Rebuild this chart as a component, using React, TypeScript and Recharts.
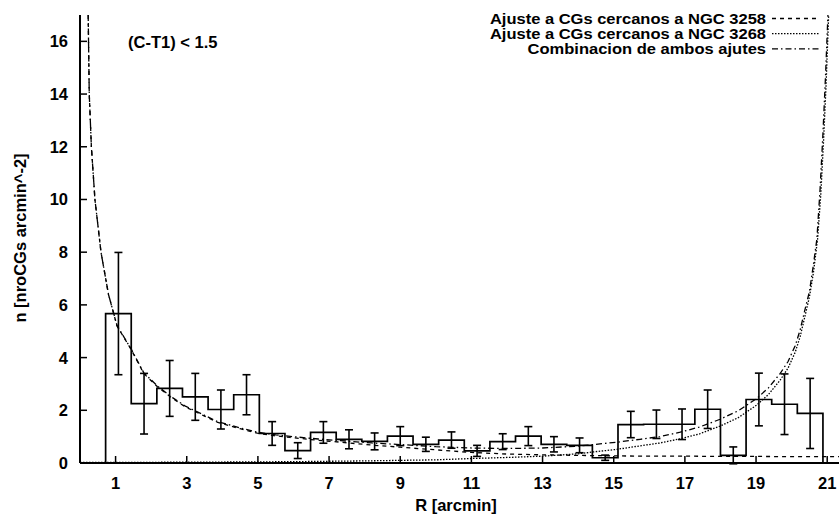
import React from 'react';
import { ComposedChart, Line, Scatter, XAxis, YAxis, ErrorBar, Legend, Label } from 'recharts';

// ---- data ----
const xTicks = [1, 3, 5, 7, 9, 11, 13, 15, 17, 19, 21];
const yTicks = [0, 2, 4, 6, 8, 10, 12, 14, 16];

// histogram bin edges [arcmin] (29 edges -> 28 bins)
const binEdges = [0.72, 1.44, 2.16, 2.88, 3.6, 4.32, 5.04, 5.76, 6.48, 7.2, 7.92, 8.64, 9.36, 10.08, 10.8, 11.52, 12.24, 12.96, 13.68, 14.4, 15.12, 15.84, 16.56, 17.28, 18.0, 18.72, 19.44, 20.16, 20.88];
const binValues = [5.67, 2.25, 2.83, 2.51, 2.03, 2.59, 1.12, 0.47, 1.16, 0.9, 0.82, 1.02, 0.71, 0.87, 0.46, 0.81, 1.02, 0.71, 0.67, 0.2, 1.46, 1.47, 1.47, 2.04, 0.29, 2.41, 2.23, 1.88];
const binErrors = [2.32, 1.15, 1.06, 0.89, 0.74, 0.76, 0.45, 0.3, 0.41, 0.36, 0.32, 0.36, 0.27, 0.31, 0.21, 0.3, 0.36, 0.29, 0.28, 0.1, 0.5, 0.54, 0.58, 0.73, 0.32, 1.0, 1.15, 1.33];

// fit near NGC 3258
const fit3258R = [0.23, 0.26, 0.32, 0.42, 0.59, 0.8, 1.04, 1.44, 1.79, 2.17, 2.6, 2.96, 3.5, 3.85, 4.5, 4.98, 5.5, 5.91, 6.7, 7.32, 8.2, 9, 10, 11, 12, 13, 14, 15, 16, 17, 18, 19, 20, 21.5];
const fit3258N = [17, 14, 12, 10, 8, 6.4, 5.2, 4.3, 3.4, 2.9, 2.45, 2.13, 1.78, 1.55, 1.3, 1.13, 1.03, 0.97, 0.86, 0.79, 0.68, 0.6, 0.5, 0.4, 0.34, 0.31, 0.29, 0.27, 0.26, 0.26, 0.25, 0.25, 0.24, 0.24];

// fit near NGC 3268
const fit3268R = [0, 3, 6, 8, 10, 11, 12, 13, 14, 14.43, 15.1, 15.74, 16.3, 16.87, 17.4, 17.99, 18.5, 19.02, 19.35, 19.68, 19.9, 20.1, 20.24, 20.38, 20.5, 20.61, 20.73, 20.82, 20.9, 20.97, 21.04];
const fit3268N = [0.02, 0.03, 0.05, 0.08, 0.12, 0.17, 0.21, 0.26, 0.35, 0.42, 0.52, 0.65, 0.76, 0.92, 1.1, 1.4, 1.72, 2.2, 2.6, 3.15, 3.6, 4.2, 4.8, 5.6, 6.3, 7.2, 8.5, 10.2, 12.3, 14.4, 17];

// combination of both fits
const fitSumR = [0.23, 0.26, 0.32, 0.42, 0.59, 0.8, 1.04, 1.44, 1.79, 2.17, 2.6, 2.96, 3.5, 3.85, 4.5, 4.98, 5.5, 5.91, 6.7, 7.32, 8.2, 9, 10, 11, 12, 13, 14, 14.43, 15.1, 15.74, 16.3, 16.87, 17.4, 17.99, 18.5, 19.02, 19.35, 19.68, 19.9, 20.1, 20.24, 20.38, 20.5, 20.61, 20.71, 20.8, 20.88, 20.95, 21.02];
const fitSumN = [17, 14, 12, 10, 8, 6.4, 5.22, 4.32, 3.43, 2.93, 2.48, 2.16, 1.81, 1.58, 1.33, 1.17, 1.07, 1.01, 0.91, 0.85, 0.76, 0.7, 0.62, 0.57, 0.55, 0.57, 0.64, 0.7, 0.79, 0.9, 1.0, 1.17, 1.36, 1.66, 1.98, 2.45, 2.85, 3.4, 3.85, 4.45, 5.05, 5.85, 6.5, 7.5, 8.5, 10.4, 12.5, 14.6, 17];

const seriesNames = ['Ajuste a CGs cercanos a NGC 3258', 'Ajuste a CGs cercanos a NGC 3268', 'Combinacion de ambos ajutes'];
const seriesDash = ['4 4', '1.5 1.5', '6 3 1.5 3'];

// ---- derived tables ----
const histData = [
  { x: binEdges[0], y: 0 },
  ...binValues.map((v, i) => ({ x: binEdges[i], y: v })),
  { x: binEdges[binEdges.length - 1], y: 0 },
];
const errData = binValues.map((v, i) => ({ x: (binEdges[i] + binEdges[i + 1]) / 2, y: v, err: binErrors[i] }));
const toPts = (xs: number[], ys: number[]) => xs.map((x, i) => ({ x, y: ys[i] }));
const d3258 = toPts(fit3258R, fit3258N);
const d3268 = toPts(fit3268R, fit3268N);
const dSum = toPts(fitSumR, fitSumN);

const FONT = "'Liberation Sans', Arial, Helvetica, sans-serif";
const FS = 16.5;
const LFS = 14;
const TICK = 7;

const BottomTick = (p: any) => (
  <g>
    <line x1={p.x} x2={p.x} y1={p.y} y2={p.y - TICK} stroke="#000" strokeWidth={1.5} />
    <text x={p.x} y={p.y + 25.5} textAnchor="middle" fontFamily={FONT} fontSize={FS} fontWeight="bold" fill="#000">
      {p.payload.value}
    </text>
  </g>
);
const TopTick = (p: any) => (
  <line x1={p.x} x2={p.x} y1={p.y} y2={p.y + TICK} stroke="#000" strokeWidth={1.5} />
);
const LeftTick = (p: any) => (
  <g>
    <line x1={p.x} x2={p.x + TICK} y1={p.y} y2={p.y} stroke="#000" strokeWidth={1.5} />
    <text x={p.x - 12} y={p.y + 6} textAnchor="end" fontFamily={FONT} fontSize={FS} fontWeight="bold" fill="#000">
      {p.payload.value}
    </text>
  </g>
);
const RightTick = (p: any) => (
  <line x1={p.x} x2={p.x - TICK} y1={p.y} y2={p.y} stroke="#000" strokeWidth={1.5} />
);

const renderLegend = (props: any) => {
  const items = (props.payload || []).filter((it: any) => seriesNames.indexOf(it.value) >= 0);
  return (
    <svg width={360} height={64} style={{ display: 'block' }}>
      {items.map((it: any, i: number) => {
        const k = seriesNames.indexOf(it.value);
        const yb = 23.5 + i * 15.2;
        return (
          <g key={it.value}>
            <text x={0} y={0} transform={`translate(296 ${yb}) scale(1.18 1)`} textAnchor="end" fontFamily={FONT} fontSize={LFS} fontWeight="bold" fill="#000">
              {it.value}
            </text>
            <line x1={302} x2={350} y1={yb - 5} y2={yb - 5} stroke="#000" strokeWidth={1.3} strokeDasharray={seriesDash[k]} />
          </g>
        );
      })}
    </svg>
  );
};

export default function App() {
  const axisLine = { stroke: '#000', strokeWidth: 2 };
  return (
    <div style={{ position: 'fixed', left: 0, top: 0, width: 839, height: 515, overflow: 'hidden', background: '#fff' }}>
      <ComposedChart width={860} height={515} margin={{ top: 15, right: 15, bottom: 0, left: 0 }}>
        <XAxis xAxisId="b" dataKey="x" type="number" domain={[0, 21.5]} allowDataOverflow ticks={xTicks} interval={0}
          tick={BottomTick} tickLine={false} tickSize={0} tickMargin={0} axisLine={axisLine} height={52}>
          <Label content={() => (
            <text x={456} y={511} textAnchor="middle" fontFamily={FONT} fontSize={FS} fontWeight="bold" fill="#000">R [arcmin]</text>
          )} />
        </XAxis>
        <XAxis xAxisId="t" orientation="top" type="number" domain={[0, 21.5]} allowDataOverflow ticks={xTicks} interval={0}
          tick={TopTick} tickLine={false} tickSize={0} tickMargin={0} axisLine={axisLine} height={0} />
        <YAxis yAxisId="l" dataKey="y" type="number" domain={[0, 17]} allowDataOverflow ticks={yTicks} interval={0}
          tick={LeftTick} tickLine={false} tickSize={0} tickMargin={0} axisLine={axisLine} width={80}>
          <Label content={() => (
            <text x={26} y={238} transform="rotate(-90 26 238)" textAnchor="middle" fontFamily={FONT} fontSize={FS} fontWeight="bold" fill="#000">
              n [nroCGs arcmin^-2]
            </text>
          )} />
        </YAxis>
        <YAxis yAxisId="r" orientation="right" type="number" domain={[0, 17]} allowDataOverflow ticks={yTicks} interval={0}
          tick={RightTick} tickLine={false} tickSize={0} tickMargin={0} axisLine={axisLine} width={0} />

        <Line xAxisId="b" yAxisId="l" data={histData} dataKey="y" type="stepAfter" stroke="#000" strokeWidth={1.7}
          dot={false} activeDot={false} isAnimationActive={false} legendType="none" name="hist" />
        <Scatter xAxisId="b" yAxisId="l" data={errData} dataKey="y" shape={() => <g />} isAnimationActive={false} legendType="none" name="err">
          <ErrorBar dataKey="err" direction="y" width={4} stroke="#000" strokeWidth={1.6} isAnimationActive={false} />
        </Scatter>
        <Line xAxisId="b" yAxisId="l" data={d3258} dataKey="y" type="linear" stroke="#000" strokeWidth={1.3}
          strokeDasharray={seriesDash[0]} dot={false} activeDot={false} isAnimationActive={false} name={seriesNames[0]} />
        <Line xAxisId="b" yAxisId="l" data={d3268} dataKey="y" type="linear" stroke="#000" strokeWidth={1.3}
          strokeDasharray={seriesDash[1]} dot={false} activeDot={false} isAnimationActive={false} name={seriesNames[1]} />
        <Line xAxisId="b" yAxisId="l" data={dSum} dataKey="y" type="linear" stroke="#000" strokeWidth={1.3}
          strokeDasharray={seriesDash[2]} dot={false} activeDot={false} isAnimationActive={false} name={seriesNames[2]} />

        <Legend layout="vertical" align="center" verticalAlign="middle" content={renderLegend}
          wrapperStyle={{ position: 'absolute', left: 470, top: 0, width: 360, height: 64 }} />
      </ComposedChart>
      <svg width={839} height={515} style={{ position: 'absolute', left: 0, top: 0, pointerEvents: 'none' }}>
        <text x={128} y={48} fontFamily={FONT} fontSize={FS} fontWeight="bold" fill="#000">(C-T1) &lt; 1.5</text>
      </svg>
    </div>
  );
}
